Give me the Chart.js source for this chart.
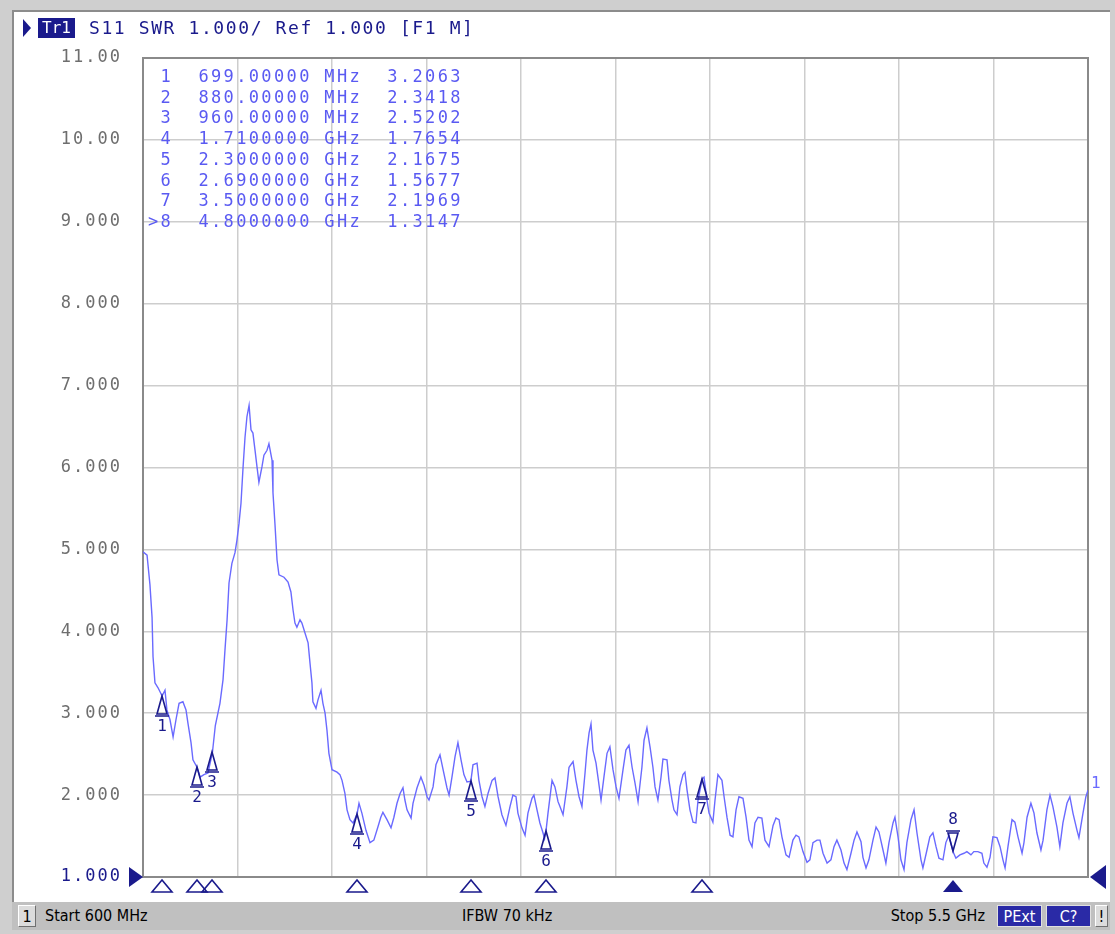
<!DOCTYPE html>
<html>
<head>
<meta charset="utf-8">
<script src="https://cdn.jsdelivr.net/npm/chart.js@4/dist/chart.umd.min.js"></script>
<style>
  body { margin: 0; width: 1115px; height: 934px; overflow: hidden; background: #cfcfcf; position: relative; }
  #panel { position: absolute; left: 12px; top: 10px; width: 1096px; height: 892px; background: #fff;
           border-top: 2px solid #8c8c8c; border-left: 2px solid #8c8c8c; }
  #c { position: absolute; left: 0; top: 0; }
  .mono { position: absolute; font-family: 'DejaVu Sans Mono', monospace; white-space: pre; }
  #hdr { left: 89px; top: 17px; font-size: 18px; letter-spacing: 1.6px; color: #1a1a8c; line-height: 22px; }
  #tri { position: absolute; left: 23px; top: 19px; width: 0; height: 0;
         border-left: 8px solid #1a1a8c; border-top: 9px solid transparent; border-bottom: 9px solid transparent; }
  #tr1 { left: 38px; top: 18px; width: 37px; height: 20px; background: #1a1a8c; color: #fff; font-size: 16px;
         line-height: 20px; text-align: center; }
  .row { left: 148px; font-size: 17px; letter-spacing: 2.36px; color: #5a5af2; line-height: 20px; }
  #bar { position: absolute; left: 12px; top: 902px; width: 1098px; height: 28px; background: #c0c0c0;
         font-family: 'DejaVu Sans Condensed', 'Liberation Sans Narrow', sans-serif; font-size: 16px; color: #000; }
  #bar div { position: absolute; top: 3px; height: 22px; line-height: 22px; }
  .box { background: #dcdcdc; border-top: 1px solid #fff; border-left: 1px solid #fff;
         border-right: 1px solid #707070; border-bottom: 1px solid #707070; text-align: center; box-sizing: border-box; }
  .nav { background: #2a2aa6; color: #fff; text-align: center; border: 1px solid #e0e0e0; box-sizing: border-box; }
</style>
</head>
<body>
<div id="panel"></div>
<canvas id="c" width="1115" height="934"></canvas>
<div id="tri"></div>
<div id="tr1" class="mono">Tr1</div>
<div id="hdr" class="mono">S11 SWR 1.000/ Ref 1.000 [F1 M]</div>
<div id="table"></div>
<div id="bar">
  <div class="box" style="left:6px;width:18px;">1</div>
  <div style="left:33px;">Start 600 MHz</div>
  <div style="left:450px;">IFBW 70 kHz</div>
  <div style="right:125px;">Stop 5.5 GHz</div>
  <div class="nav" style="left:985px;width:45px;">PExt</div>
  <div class="nav" style="left:1034px;width:45px;">C?</div>
  <div class="box" style="left:1083px;width:13px;">!</div>
</div>
<script>
// sweep: frequency in MHz, SWR
var freq = [600, 621, 626, 636, 647, 652, 662, 678, 699, 714, 724, 740, 756, 771, 787, 807, 823, 833, 849, 859,
  880, 896, 916, 937, 960, 975, 999, 1015, 1025, 1036, 1046, 1061, 1077, 1087, 1098, 1108, 1119, 1129, 1139, 1150,
  1160, 1170, 1181, 1191, 1201, 1217, 1227, 1243, 1253, 1269, 1274, 1284, 1295, 1305, 1331, 1352, 1367, 1378, 1388, 1398,
  1414, 1424, 1440, 1456, 1466, 1476, 1481, 1497, 1507, 1523, 1533, 1544, 1554, 1564, 1580, 1606, 1621, 1632, 1647, 1658,
  1673, 1689, 1710, 1720, 1735, 1756, 1777, 1797, 1818, 1833, 1844, 1865, 1886, 1901, 1917, 1933, 1948, 1958, 1969, 1990,
  2000, 2021, 2041, 2057, 2073, 2083, 2104, 2119, 2140, 2156, 2176, 2187, 2202, 2218, 2233, 2249, 2264, 2280, 2300, 2311,
  2332, 2342, 2358, 2373, 2389, 2410, 2425, 2441, 2461, 2482, 2503, 2518, 2534, 2544, 2565, 2581, 2596, 2617, 2627, 2643,
  2658, 2674, 2682, 2690, 2700, 2721, 2736, 2752, 2762, 2778, 2798, 2809, 2830, 2845, 2861, 2876, 2892, 2902, 2913, 2923,
  2933, 2949, 2959, 2975, 2990, 3006, 3021, 3037, 3053, 3068, 3089, 3104, 3120, 3136, 3151, 3167, 3187, 3198, 3213, 3229,
  3244, 3255, 3270, 3286, 3296, 3317, 3327, 3343, 3353, 3369, 3384, 3400, 3410, 3421, 3436, 3452, 3467, 3478, 3500, 3509,
  3524, 3535, 3555, 3566, 3581, 3602, 3613, 3628, 3644, 3659, 3675, 3690, 3711, 3727, 3742, 3758, 3773, 3789, 3809, 3825,
  3846, 3867, 3882, 3898, 3913, 3934, 3950, 3970, 3986, 4001, 4022, 4043, 4058, 4074, 4095, 4110, 4126, 4147, 4167, 4183,
  4198, 4219, 4235, 4250, 4271, 4287, 4302, 4323, 4333, 4349, 4364, 4385, 4401, 4416, 4437, 4452, 4468, 4489, 4499, 4515,
  4530, 4546, 4561, 4582, 4598, 4613, 4634, 4644, 4665, 4680, 4696, 4712, 4727, 4748, 4763, 4779, 4800, 4815, 4836, 4857,
  4872, 4893, 4908, 4929, 4950, 4960, 4976, 4992, 5007, 5028, 5044, 5059, 5070, 5085, 5106, 5121, 5137, 5158, 5168, 5184,
  5204, 5220, 5235, 5256, 5267, 5287, 5303, 5318, 5339, 5354, 5370, 5391, 5406, 5422, 5443, 5453, 5474, 5489, 5500];
var swr = [4.97, 4.93, 4.81, 4.57, 4.17, 3.69, 3.37, 3.31, 3.21, 3.28, 3.04, 2.92, 2.71, 2.92, 3.12, 3.14, 3.04, 2.88, 2.64, 2.43,
  2.34, 2.22, 2.25, 2.27, 2.52, 2.85, 3.12, 3.41, 3.77, 4.14, 4.59, 4.83, 4.96, 5.11, 5.32, 5.56, 6.01, 6.37, 6.62, 6.76,
  6.46, 6.42, 6.21, 6.01, 5.82, 6.01, 6.15, 6.21, 6.29, 6.09, 5.69, 5.32, 4.87, 4.69, 4.66, 4.60, 4.48, 4.26, 4.10, 4.05,
  4.14, 4.10, 3.98, 3.86, 3.61, 3.37, 3.14, 3.06, 3.16, 3.28, 3.12, 3.00, 2.79, 2.51, 2.31, 2.28, 2.25, 2.18, 2.02, 1.82,
  1.70, 1.66, 1.77, 1.90, 1.78, 1.57, 1.42, 1.45, 1.61, 1.73, 1.79, 1.70, 1.60, 1.73, 1.90, 2.02, 2.09, 1.94, 1.82, 1.72,
  1.90, 2.09, 2.22, 2.12, 1.98, 1.94, 2.10, 2.37, 2.49, 2.31, 2.09, 2.00, 2.22, 2.47, 2.64, 2.43, 2.25, 2.16, 2.17, 2.37,
  2.39, 2.18, 1.98, 1.86, 2.02, 2.18, 2.21, 1.98, 1.76, 1.63, 1.86, 2.00, 1.98, 1.78, 1.60, 1.51, 1.78, 1.96, 2.00, 1.82,
  1.66, 1.54, 1.47, 1.57, 1.78, 2.18, 2.10, 1.92, 1.86, 1.76, 2.10, 2.34, 2.41, 2.18, 1.98, 1.86, 2.27, 2.55, 2.76, 2.87,
  2.55, 2.39, 2.22, 1.94, 2.22, 2.51, 2.59, 2.31, 2.10, 1.96, 2.31, 2.55, 2.61, 2.34, 2.15, 1.92, 2.34, 2.67, 2.82, 2.59,
  2.34, 2.10, 1.94, 2.22, 2.44, 2.43, 2.18, 1.94, 1.82, 1.76, 2.10, 2.25, 2.28, 2.06, 1.82, 1.67, 1.66, 1.94, 2.20, 2.22,
  1.94, 1.78, 1.67, 1.94, 2.25, 2.18, 1.98, 1.73, 1.51, 1.49, 1.82, 1.98, 1.96, 1.73, 1.45, 1.37, 1.66, 1.73, 1.72, 1.45,
  1.37, 1.63, 1.72, 1.70, 1.49, 1.27, 1.24, 1.45, 1.51, 1.49, 1.31, 1.18, 1.21, 1.42, 1.45, 1.45, 1.29, 1.17, 1.21, 1.37,
  1.45, 1.33, 1.17, 1.09, 1.29, 1.45, 1.55, 1.43, 1.24, 1.11, 1.21, 1.45, 1.61, 1.55, 1.33, 1.17, 1.42, 1.66, 1.73, 1.49,
  1.21, 1.09, 1.42, 1.70, 1.82, 1.54, 1.21, 1.11, 1.33, 1.49, 1.54, 1.37, 1.23, 1.21, 1.42, 1.51, 1.31, 1.23, 1.27, 1.29,
  1.31, 1.27, 1.31, 1.31, 1.29, 1.17, 1.12, 1.24, 1.49, 1.48, 1.37, 1.21, 1.11, 1.37, 1.70, 1.67, 1.49, 1.29, 1.42, 1.73,
  1.90, 1.78, 1.54, 1.33, 1.45, 1.82, 2.00, 1.86, 1.61, 1.37, 1.66, 1.90, 1.98, 1.78, 1.57, 1.48, 1.78, 1.98, 2.06];

// markers (MHz, SWR) as listed in the marker table
var markerFreq = [699, 880, 960, 1710, 2300, 2690, 3500, 4800];
var markerSwr = [3.2063, 2.3418, 2.5202, 1.7654, 2.1675, 1.5677, 2.1969, 1.3147];
var activeMarker = 8;

var yTicks = [1, 2, 3, 4, 5, 6, 7, 8, 9, 10, 11];

var NAVY = '#1a1a8c';
var TRACE = '#6a6aff';

// marker table text
function fmtFreq(f) {
  return f < 1000 ? f.toFixed(5) + ' MHz' : (f / 1000).toFixed(7) + ' GHz';
}
var table = document.getElementById('table');
markerFreq.forEach(function(f, i) {
  var n = i + 1;
  var num = n === activeMarker ? '>' + n : ' ' + n;
  var row = document.createElement('div');
  row.className = 'mono row';
  row.style.top = (66 + i * 20.7) + 'px';
  row.textContent = num + '  ' + fmtFreq(f) + '  ' + markerSwr[i].toFixed(4);
  table.appendChild(row);
});

var vnaDeco = {
  id: 'vnaDeco',
  beforeDraw: function(chart) {
    chart.ctx.letterSpacing = '2px';
  },
  beforeDatasetsDraw: function(chart) {
    var ctx = chart.ctx, a = chart.chartArea;
    ctx.save();
    ctx.strokeStyle = '#8a8a8a';
    ctx.lineWidth = 2;
    ctx.strokeRect(a.left, a.top, a.right - a.left, a.bottom - a.top);
    ctx.restore();
  },
  afterDatasetsDraw: function(chart) {
    var ctx = chart.ctx, a = chart.chartArea;
    var xs = chart.scales.x, ys = chart.scales.y;
    ctx.save();
    ctx.letterSpacing = '0px';
    ctx.strokeStyle = NAVY;
    ctx.fillStyle = NAVY;
    ctx.lineWidth = 1.6;
    ctx.font = '16px "DejaVu Sans Mono"';
    ctx.textAlign = 'center';
    ctx.textBaseline = 'middle';
    markerFreq.forEach(function(f, i) {
      var px = Math.round(xs.getPixelForValue(f));
      var py = Math.round(ys.getPixelForValue(markerSwr[i]));
      var n = i + 1;
      ctx.beginPath();
      if (n === activeMarker) {
        ctx.moveTo(px, py);
        ctx.lineTo(px - 5, py - 18);
        ctx.lineTo(px + 5, py - 18);
        ctx.closePath();
        ctx.moveTo(px - 7, py - 20);
        ctx.lineTo(px + 7, py - 20);
        ctx.stroke();
        ctx.fillText(String(n), px, py - 31);
      } else {
        ctx.moveTo(px, py);
        ctx.lineTo(px - 5, py + 18);
        ctx.lineTo(px + 5, py + 18);
        ctx.closePath();
        ctx.moveTo(px - 7, py + 20);
        ctx.lineTo(px + 7, py + 20);
        ctx.stroke();
        ctx.fillText(String(n), px, py + 31);
      }
      // marker indicator under the grid
      ctx.beginPath();
      ctx.moveTo(px, a.bottom + 3);
      ctx.lineTo(px - 10, a.bottom + 15);
      ctx.lineTo(px + 10, a.bottom + 15);
      ctx.closePath();
      if (n === activeMarker) ctx.fill(); else ctx.stroke();
    });
    // reference level arrows
    var ry = ys.getPixelForValue(1);
    ctx.beginPath();
    ctx.moveTo(a.left, ry);
    ctx.lineTo(a.left - 14, ry - 10);
    ctx.lineTo(a.left - 14, ry + 10);
    ctx.closePath();
    ctx.fill();
    ctx.beginPath();
    ctx.moveTo(a.right + 2, ry);
    ctx.lineTo(a.right + 18, ry - 12);
    ctx.lineTo(a.right + 18, ry + 12);
    ctx.closePath();
    ctx.fill();
    // trace number at the end of the trace
    ctx.fillStyle = TRACE;
    ctx.textAlign = 'left';
    ctx.fillText('1', a.right + 3, ys.getPixelForValue(swr[swr.length - 1]) - 6);
    ctx.restore();
  }
};

var points = freq.map(function(f, i) { return { x: f, y: swr[i] }; });

new Chart(document.getElementById('c'), {
  type: 'line',
  data: {
    datasets: [{
      data: points,
      borderColor: TRACE,
      borderWidth: 1.4,
      pointRadius: 0,
      tension: 0,
      fill: false
    }]
  },
  options: {
    responsive: false,
    animation: false,
    devicePixelRatio: 1,
    layout: { padding: { left: 0, top: 58, right: 27, bottom: 0 } },
    plugins: { legend: { display: false }, tooltip: { enabled: false } },
    scales: {
      x: {
        type: 'linear',
        min: 600,
        max: 5500,
        ticks: { display: false, stepSize: 490 },
        grid: { color: '#cdcdcd', lineWidth: 1.5, drawTicks: false },
        border: { display: false },
        afterFit: function(s) { s.height = 57; }
      },
      y: {
        min: 1,
        max: 11,
        afterBuildTicks: function(s) { s.ticks = yTicks.map(function(v) { return { value: v }; }); },
        ticks: {
          padding: 21,
          font: { family: 'DejaVu Sans Mono', size: 17 },
          color: function(c) { return c.tick.value === 1 ? NAVY : '#6e6e6e'; },
          callback: function(v) { return v >= 10 ? v.toFixed(2) : v.toFixed(3); }
        },
        grid: { color: '#cdcdcd', lineWidth: 1.5, drawTicks: false },
        border: { display: false },
        afterFit: function(s) { s.width = 143; }
      }
    }
  },
  plugins: [vnaDeco]
});
</script>
</body>
</html>
